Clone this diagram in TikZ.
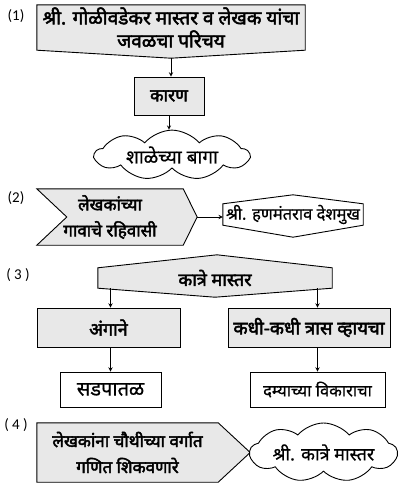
\documentclass[tikz,border=0pt]{standalone}
\usepackage{fontspec}
\setmainfont{Carlito}
\newfontfamily\deva[Script=Devanagari,FakeBold=0.6]{Noto Sans}
\newfontfamily\devabold[Script=Devanagari,FakeBold=2.5]{Noto Sans}
\usetikzlibrary{positioning,calc,shapes.symbols,backgrounds}
\definecolor{boxgray}{RGB}{232,232,232}

\begin{document}
\begin{tikzpicture}[
    x=1pt, y=-1pt,
    heavy/.style={font=\devabold\fontsize{#1}{26}\selectfont}, heavy/.default=17.5,
    light/.style={font=\deva\fontsize{#1}{20}\selectfont}, light/.default=16.5,
    panel/.style={draw, fill=boxgray, line width=0.9pt},
    label/.style={inner sep=0pt, align=center, heavy},
    shaded/.style={panel, align=center, inner sep=2pt, heavy},
    plain/.style={draw, fill=white, line width=0.9pt, align=center, inner sep=2pt, light},
    bubble/.style={plain, cloud, cloud puffs=9, cloud puff arc=100, cloud ignores aspect},
    number/.style={font=\fontsize{15}{17}\selectfont},
    arrow/.style={->, >=stealth, line width=0.9pt}
]
\useasboundingbox (0,0) rectangle (403,491);

% (1) Golivadekar master
\node[number] (n1) at (16,16) {(1)};
\node[label, font=\devabold\fontsize{19}{23}\selectfont, minimum width=268, minimum height=45] (intro) at (171,27.5) {\raisebox{-3pt}{\parbox{268pt}{\centering श्री. गोळीवडेकर मास्तर व लेखक यांचा\\जवळचा परिचय}}};
\node[shaded, minimum width=70, minimum height=38] (reason) at (169,96) {कारण};
\node[bubble, light=19, minimum width=154, minimum height=40] (garden) at (172,155) {शाळेच्या बागा};
\coordinate (intro tip) at ([yshift=-8pt]intro.south);

\draw[arrow] (intro tip) -- (reason.north -| intro tip);
\draw[arrow] (reason) -- (reason.south |- garden.north);

% (2) Hanmantrao Deshmukh
\node[number] (n2) at (16,198) {(2)};
\node[label, heavy=17, minimum width=146, minimum height=56] (home) at (110,217) {लेखकांच्या\\गावाचे रहिवासी};
\node[label, light, minimum width=140, minimum height=21] (neighbour) at (293,214.5) {श्री. हणमंतराव देशमुख};
\coordinate (home tip) at ([xshift=14pt]home.east);

\draw[arrow] (home tip) -- (home tip -| neighbour.west);

% (3) Katre master
\node[number] (n3) at (18,275) {( 3 )};
\node[label, heavy=18, minimum width=234, minimum height=20] (katre) at (215,278) {कात्रे मास्तर};
\node[shaded, heavy=18, minimum width=143, minimum height=39] (body) at (108.5,327.5) {अंगाने};
\node[shaded, heavy=18.5, minimum width=162, minimum height=39] (trouble) at (309,327.5) {कधी-कधी त्रास व्हायचा};
\node[plain, light=20, minimum width=101, minimum height=35] (thin) at (110.5,389.5) {सडपातळ};
\node[plain, minimum width=135, minimum height=35] (asthma) at (317.5,389.5) {दम्याच्या विकाराचा};

\draw[arrow] (katre.south west -| thin.north) -- (body.north -| thin.north);
\draw[arrow] (katre.south east -| asthma.north) -- (trouble.north -| asthma.north);
\draw[arrow] (body.south -| thin.north) -- (thin.north);
\draw[arrow] (trouble.south -| asthma.north) -- (asthma.north);

% (4) Katre master again
\node[number] (n4) at (16,425) {( 4 )};
\node[label, heavy=17, minimum width=181, minimum height=59] (teacher) at (127.5,452.5) {लेखकांना चौथीच्या वर्गात\\गणित शिकवणारे};
\node[bubble, light=18, minimum width=147, minimum height=59] (katrecloud) at (323.5,452.5) {श्री. कात्रे मास्तर};

% outlines behind the labels
\begin{scope}[on background layer]
\draw[panel] (intro.north west) -- (intro.north east) -- (intro.south east) -- (intro tip) -- (intro.south west) -- cycle;
\draw[panel] (home.north west) -- (home.north east) -- (home tip) -- (home.south east) -- (home.south west) -- ([xshift=30pt]home.west) -- cycle;
\draw[line width=0.9pt, fill=white] (neighbour.north west) -- ([yshift=9pt]neighbour.north) -- (neighbour.north east) -- (neighbour.south east) -- ([yshift=-12pt]neighbour.south) -- (neighbour.south west) -- cycle;
\draw[panel] (katre.north west) -- ([xshift=2pt,yshift=13pt]katre.north) -- (katre.north east) -- (katre.south east) -- ([yshift=-9pt]katre.south) -- (katre.south west) -- cycle;
\draw[panel] (teacher.north west) -- (teacher.north east) -- ([xshift=32pt]teacher.east) -- (teacher.south east) -- (teacher.south west) -- cycle;
\end{scope}

\end{tikzpicture}
\end{document}
